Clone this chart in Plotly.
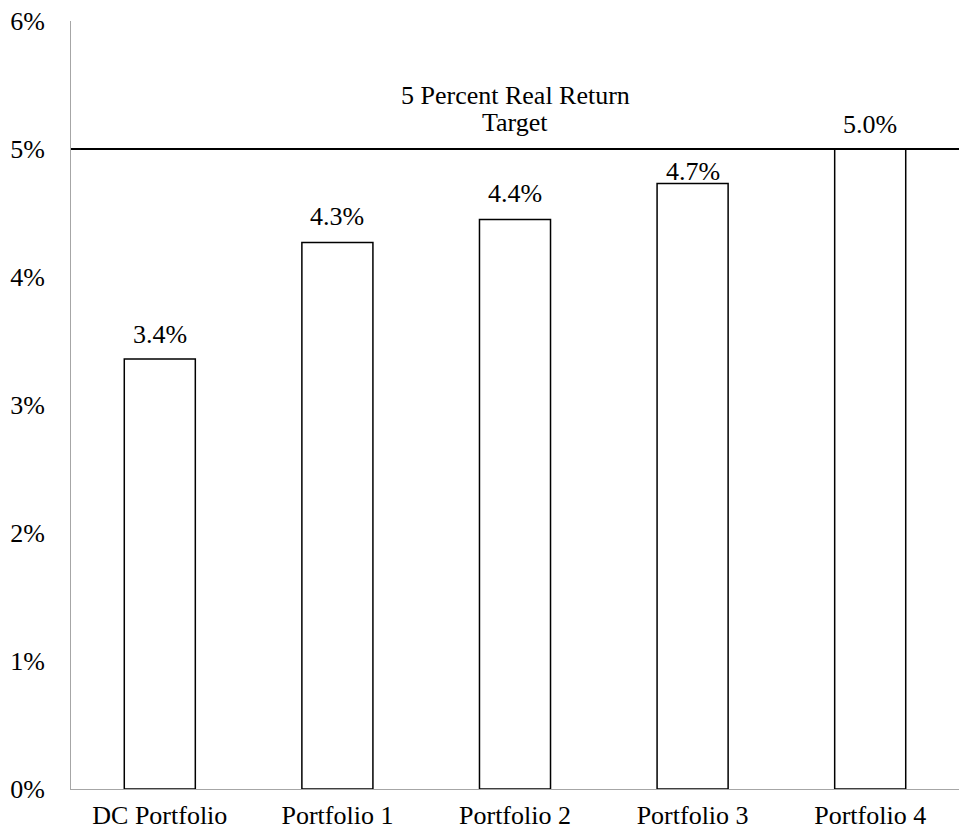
import plotly.graph_objects as go

categories = ["DC Portfolio", "Portfolio 1", "Portfolio 2", "Portfolio 3", "Portfolio 4"]
returns = [3.36, 4.27, 4.45, 4.73, 5.0]
value_labels = ["3.4%", "4.3%", "4.4%", "4.7%", "5.0%"]
target = 5.0
target_lines = ["5 Percent Real Return", "Target"]
y_ticks = [0, 1, 2, 3, 4, 5, 6]
y_tick_labels = [f"{v}%" for v in y_ticks]

# styling: per-label vertical offsets (pixels) above bar tops
label_shift = [24, 25.5, 25.5, 12.5, 25]

FONT = "Liberation Serif"
FS = 26

fig = go.Figure()
fig.add_trace(go.Bar(
    x=categories, y=returns,
    marker=dict(color="white", line=dict(color="black", width=1.5)),
    width=0.4, showlegend=False, hoverinfo="skip",
))

annotations = []
for c, v, t, s in zip(categories, returns, value_labels, label_shift):
    annotations.append(dict(
        x=c, y=v, text=t, showarrow=False, yanchor="middle",
        yshift=s, font=dict(family=FONT, size=FS, color="black"),
    ))
for txt, yy in zip(target_lines, [5.42, 5.205]):
    annotations.append(dict(
        x=categories[2], y=yy, text=txt, showarrow=False, yanchor="middle",
        font=dict(family=FONT, size=FS, color="black"),
    ))

fig.add_shape(type="line", xref="paper", x0=0, x1=1, yref="y", y0=target, y1=target,
              line=dict(color="black", width=2))

fig.update_layout(
    width=959, height=840,
    margin=dict(l=71, r=0, t=21, b=51),
    paper_bgcolor="white", plot_bgcolor="white",
    font=dict(family=FONT, size=FS, color="black"),
    annotations=annotations,
    bargap=0.6,
    xaxis=dict(showline=True, linecolor="#a6a6a6", linewidth=1, showgrid=False,
               ticks="", tickfont=dict(family=FONT, size=FS, color="black"),
               ticklabelstandoff=3),
    yaxis=dict(range=[0, 6], tickvals=y_ticks, ticktext=y_tick_labels,
               showline=True, linecolor="#a6a6a6", linewidth=1, showgrid=False,
               zeroline=False, ticks="", ticklabelstandoff=20,
               tickfont=dict(family=FONT, size=FS, color="black")),
)

fig.write_html("out.html", config={"displayModeBar": False},
               post_script="document.body.style.margin='0';document.body.style.overflow='hidden';")
